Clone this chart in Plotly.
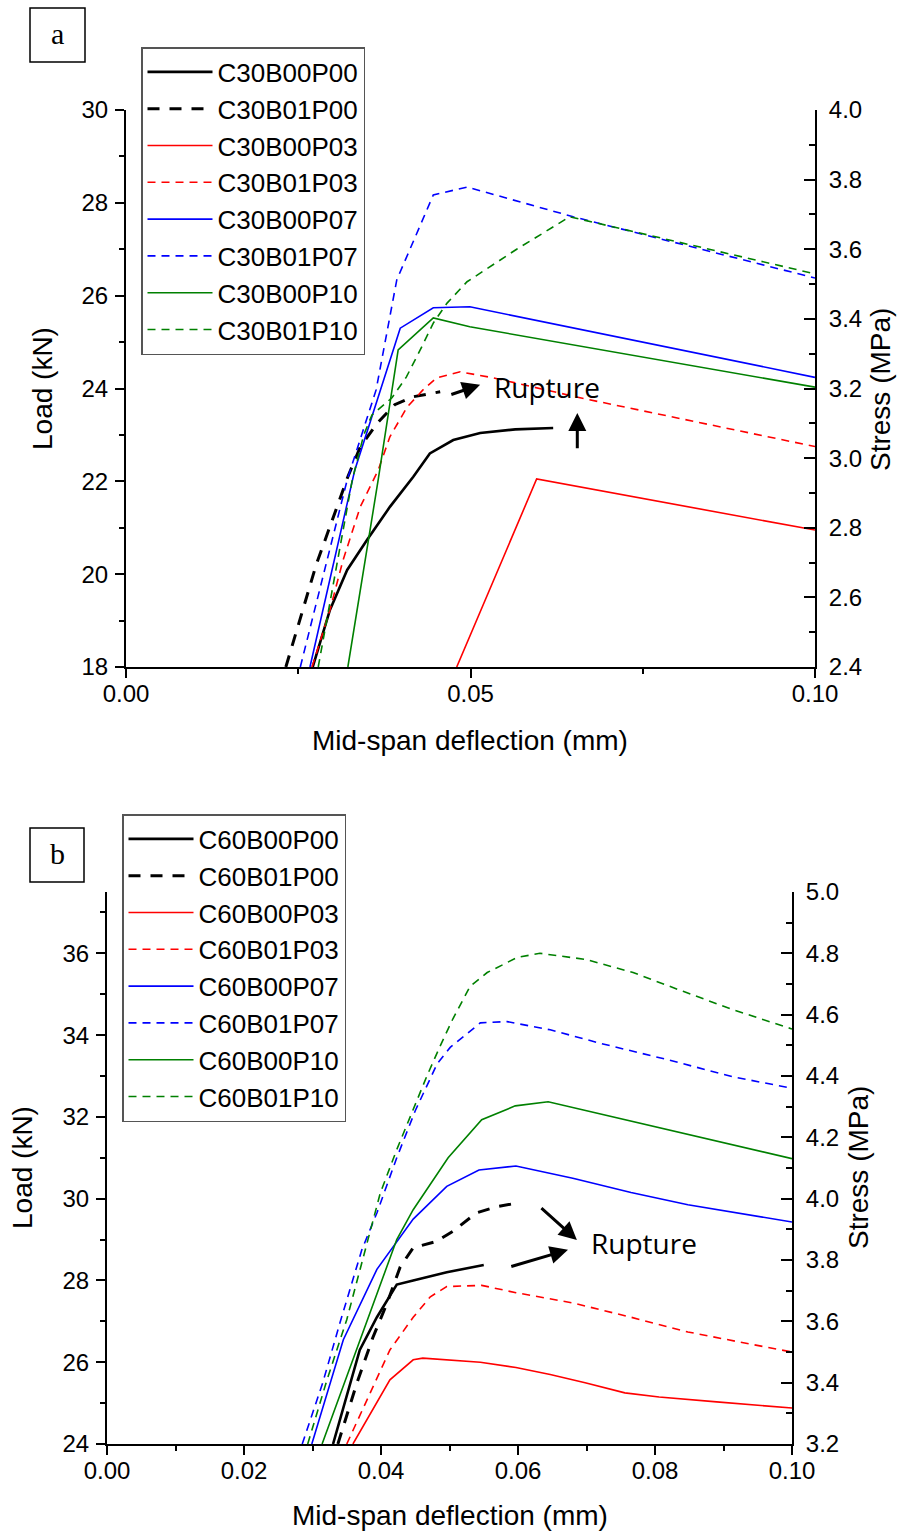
import plotly.graph_objects as go

# ---------------- Panel (a) data : C30 series ----------------
a_names = ["C30B00P00", "C30B01P00", "C30B00P03", "C30B01P03",
           "C30B00P07", "C30B01P07", "C30B00P10", "C30B01P10"]

a_B00P00_x = [0.0271, 0.0296, 0.0321, 0.0350, 0.0383, 0.0417, 0.0441, 0.0475, 0.0514, 0.0565, 0.0620]
a_B00P00_y = [18.0, 19.23, 20.09, 20.74, 21.45, 22.10, 22.60, 22.89, 23.04, 23.12, 23.15]

a_B01P00_x = [0.0232, 0.0276, 0.0322, 0.0340, 0.0365, 0.0390, 0.0416, 0.0451, 0.0456]
a_B01P00_y = [18.0, 20.20, 22.10, 22.74, 23.26, 23.65, 23.82, 23.93, 23.93]

a_B00P03_x = [0.0480, 0.0596, 0.1000]
a_B00P03_y = [18.0, 22.05, 20.95]

a_B01P03_x = [0.0270, 0.0296, 0.0315, 0.0340, 0.0366, 0.0383, 0.0408, 0.0431, 0.0451, 0.0485, 0.0533, 0.0659, 0.1000]
a_B01P03_y = [18.0, 19.23, 20.30, 21.45, 22.24, 22.96, 23.60, 23.97, 24.23, 24.36, 24.23, 23.80, 22.75]

a_B00P07_x = [0.0267, 0.0332, 0.0398, 0.0446, 0.0499, 0.1000]
a_B00P07_y = [18.0, 22.24, 25.30, 25.74, 25.76, 24.24]

a_B01P07_x = [0.0253, 0.0321, 0.0363, 0.0393, 0.0446, 0.0495, 0.0649, 0.1000]
a_B01P07_y = [18.0, 22.03, 23.97, 26.34, 28.17, 28.34, 27.70, 26.38]

a_B00P10_x = [0.0322, 0.0366, 0.0395, 0.0446, 0.0499, 0.1000]
a_B00P10_y = [18.0, 22.03, 24.83, 25.52, 25.33, 24.03]

a_B01P10_x = [0.0279, 0.0328, 0.0345, 0.0357, 0.0386, 0.0407, 0.0427, 0.0446, 0.0466, 0.0495, 0.0567, 0.0644, 0.1000]
a_B01P10_y = [18.0, 22.00, 23.00, 23.43, 23.80, 24.25, 24.83, 25.41, 25.84, 26.30, 27.00, 27.70, 26.47]

# ---------------- Panel (b) data : C60 series ----------------
b_names = ["C60B00P00", "C60B01P00", "C60B00P03", "C60B01P03",
           "C60B00P07", "C60B01P07", "C60B00P10", "C60B01P10"]

b_B00P00_x = [0.0330, 0.0369, 0.0394, 0.0423, 0.0447, 0.0496, 0.0550]
b_B00P00_y = [24.0, 26.30, 27.10, 27.90, 28.00, 28.20, 28.38]

b_B01P00_x = [0.0337, 0.0365, 0.0388, 0.0409, 0.0428, 0.0447, 0.0480, 0.0505, 0.0539, 0.0568, 0.0601]
b_B01P00_y = [24.0, 25.50, 26.60, 27.45, 28.33, 28.80, 28.95, 29.20, 29.65, 29.80, 29.90]

b_B00P03_x = [0.0359, 0.0413, 0.0447, 0.0461, 0.0545, 0.0597, 0.0647, 0.0698, 0.0756, 0.0806, 0.0890, 0.1000]
b_B00P03_y = [24.0, 25.57, 26.06, 26.10, 26.00, 25.87, 25.70, 25.50, 25.25, 25.15, 25.03, 24.88]

b_B01P03_x = [0.0350, 0.0384, 0.0413, 0.0447, 0.0472, 0.0496, 0.0547, 0.0597, 0.0680, 0.0765, 0.0848, 0.0931, 0.1000]
b_B01P03_y = [24.0, 25.25, 26.30, 27.10, 27.60, 27.85, 27.88, 27.70, 27.45, 27.10, 26.74, 26.47, 26.25]

b_B00P07_x = [0.0299, 0.0345, 0.0394, 0.0447, 0.0496, 0.0543, 0.0597, 0.0680, 0.0765, 0.0848, 0.1000]
b_B00P07_y = [24.0, 26.55, 28.27, 29.50, 30.30, 30.70, 30.80, 30.50, 30.15, 29.85, 29.43]

b_B01P07_x = [0.0285, 0.0315, 0.0340, 0.0372, 0.0394, 0.0423, 0.0450, 0.0482, 0.0501, 0.0526,
              0.0545, 0.0584, 0.0647, 0.0720, 0.0818, 0.0914, 0.1000]
b_B01P07_y = [24.0, 25.50, 26.96, 28.75, 29.65, 31.00, 32.15, 33.30, 33.70, 34.05,
              34.30, 34.33, 34.13, 33.80, 33.40, 32.98, 32.70]

b_B00P10_x = [0.0314, 0.0423, 0.0447, 0.0498, 0.0547, 0.0596, 0.0644, 0.1000]
b_B00P10_y = [24.0, 29.00, 29.73, 31.00, 31.93, 32.27, 32.37, 30.98]

b_B01P10_x = [0.0293, 0.0321, 0.0350, 0.0377, 0.0399, 0.0423, 0.0447, 0.0467, 0.0486, 0.0505,
              0.0530, 0.0555, 0.0599, 0.0632, 0.0699, 0.0768, 0.0841, 0.0914, 0.1000]
b_B01P10_y = [24.0, 25.56, 27.04, 28.75, 30.14, 31.20, 32.18, 33.00, 33.72, 34.40,
              35.19, 35.53, 35.90, 36.00, 35.85, 35.53, 35.07, 34.62, 34.15]

# axis ranges
a_xrange = [0, 0.1]
a_yrange = [18, 30]
a_y2range = [2.4, 4.0]
b_xrange = [0, 0.1]
b_yrange = [24, 37.5]
b_y2range = [3.2, 5.0]

# ---------------- styling ----------------
W, H = 900, 1533
BLACK = "#000000"
RED = "#FF0000"
BLUE = "#0000FF"
GREEN = "#008000"
FONT = "Liberation Sans, Arial, sans-serif"

styles = [
    dict(color=BLACK, width=2.6, dash="solid"),
    dict(color=BLACK, width=3.0, dash="12px,10px"),
    dict(color=RED, width=1.6, dash="solid"),
    dict(color=RED, width=1.6, dash="8px,6px"),
    dict(color=BLUE, width=1.6, dash="solid"),
    dict(color=BLUE, width=1.6, dash="8px,6px"),
    dict(color=GREEN, width=1.6, dash="solid"),
    dict(color=GREEN, width=1.6, dash="8px,6px"),
]

a_series = [(a_B00P00_x, a_B00P00_y), (a_B01P00_x, a_B01P00_y), (a_B00P03_x, a_B00P03_y),
            (a_B01P03_x, a_B01P03_y), (a_B00P07_x, a_B00P07_y), (a_B01P07_x, a_B01P07_y),
            (a_B00P10_x, a_B00P10_y), (a_B01P10_x, a_B01P10_y)]
b_series = [(b_B00P00_x, b_B00P00_y), (b_B01P00_x, b_B01P00_y), (b_B00P03_x, b_B00P03_y),
            (b_B01P03_x, b_B01P03_y), (b_B00P07_x, b_B00P07_y), (b_B01P07_x, b_B01P07_y),
            (b_B00P10_x, b_B00P10_y), (b_B01P10_x, b_B01P10_y)]

fig = go.Figure()
for name, (xs, ys), st in zip(a_names, a_series, styles):
    fig.add_trace(go.Scatter(x=xs, y=ys, name=name, mode="lines", line=st,
                             xaxis="x", yaxis="y", legend="legend"))
for name, (xs, ys), st in zip(b_names, b_series, styles):
    fig.add_trace(go.Scatter(x=xs, y=ys, name=name, mode="lines", line=st,
                             xaxis="x2", yaxis="y3", legend="legend2"))

# invisible helper traces so the stress axes are drawn
fig.add_trace(go.Scatter(x=[None], y=[None], xaxis="x", yaxis="y2", showlegend=False, hoverinfo="skip"))
fig.add_trace(go.Scatter(x=[None], y=[None], xaxis="x2", yaxis="y4", showlegend=False, hoverinfo="skip"))


def px_x(p):
    return p / W


def px_y(p):
    return 1 - p / H


tickfont = dict(family=FONT, size=24, color=BLACK)
common = dict(showline=True, linecolor=BLACK, linewidth=2, showgrid=False, zeroline=False,
              tickfont=tickfont, tickcolor=BLACK, tickwidth=2, mirror=False, automargin=False)

layout = dict(
    template="none",
    width=W, height=H, margin=dict(l=0, r=0, t=0, b=0, autoexpand=False),
    paper_bgcolor="white", plot_bgcolor="white",
    showlegend=True,
    xaxis=dict(domain=[px_x(126), px_x(815)], anchor="y", range=a_xrange,
               tickmode="linear", tick0=0, dtick=0.05, tickformat=".2f",
               ticks="outside", ticklen=9, ticklabelstandoff=-5,
               minor=dict(ticks="outside", ticklen=5, dtick=0.025, tickcolor=BLACK, tickwidth=2),
               **common),
    yaxis=dict(domain=[px_y(667), px_y(110)], anchor="x", range=a_yrange,
               tickmode="linear", tick0=18, dtick=2,
               ticks="outside", ticklen=9, ticklabelstandoff=2,
               minor=dict(ticks="outside", ticklen=5, dtick=1, tickcolor=BLACK, tickwidth=2),
               **common),
    yaxis2=dict(overlaying="y", side="right", anchor="x", range=a_y2range,
                tickmode="linear", tick0=2.4, dtick=0.2, tickformat=".1f",
                ticks="inside", ticklen=11, ticklabelstandoff=7,
                minor=dict(ticks="inside", ticklen=6, dtick=0.1, tickcolor=BLACK, tickwidth=2),
                **common),
    xaxis2=dict(domain=[px_x(107), px_x(792)], anchor="y3", range=b_xrange,
                tickmode="linear", tick0=0, dtick=0.02, tickformat=".2f",
                ticks="outside", ticklen=9, ticklabelstandoff=-5,
                minor=dict(ticks="outside", ticklen=5, dtick=0.01, tickcolor=BLACK, tickwidth=2),
                **common),
    yaxis3=dict(domain=[px_y(1444), px_y(892)], anchor="x2", range=b_yrange,
                tickmode="linear", tick0=24, dtick=2,
                ticks="outside", ticklen=9, ticklabelstandoff=2,
                minor=dict(ticks="outside", ticklen=5, dtick=1, tickcolor=BLACK, tickwidth=2),
                **common),
    yaxis4=dict(overlaying="y3", side="right", anchor="x2", range=b_y2range,
                tickmode="linear", tick0=3.2, dtick=0.2, tickformat=".1f",
                ticks="inside", ticklen=11, ticklabelstandoff=7,
                minor=dict(ticks="inside", ticklen=6, dtick=0.1, tickcolor=BLACK, tickwidth=2),
                **common),
    legend=dict(x=px_x(141), y=px_y(47), xanchor="left", yanchor="top",
                bgcolor="white", bordercolor="#555555", borderwidth=1.5,
                font=dict(family=FONT, size=26, color=BLACK),
                itemwidth=65, tracegroupgap=0, itemclick=False),
    legend2=dict(x=px_x(122), y=px_y(814), xanchor="left", yanchor="top",
                 bgcolor="white", bordercolor="#555555", borderwidth=1.5,
                 font=dict(family=FONT, size=26, color=BLACK),
                 itemwidth=65, tracegroupgap=0, itemclick=False),
)
fig.update_layout(**layout)

titlefont = dict(family=FONT, size=28, color=BLACK)
C = dict(xref="paper", yref="paper", xanchor="center", yanchor="middle", showarrow=False)
ann = []
# axis titles panel a
ann.append(dict(text="Load (kN)", x=px_x(42), y=px_y(389), textangle=-90, font=titlefont, **C))
ann.append(dict(text="Stress (MPa)", x=px_x(880), y=px_y(390), textangle=-90, font=titlefont, **C))
ann.append(dict(text="Mid-span deflection (mm)", x=px_x(470), y=px_y(740), font=titlefont, **C))
# axis titles panel b
ann.append(dict(text="Load (kN)", x=px_x(22), y=px_y(1168), textangle=-90, font=titlefont, **C))
ann.append(dict(text="Stress (MPa)", x=px_x(858), y=px_y(1168), textangle=-90, font=titlefont, **C))
ann.append(dict(text="Mid-span deflection (mm)", x=px_x(450), y=px_y(1515), font=titlefont, **C))

# panel labels
labfont = dict(family="Liberation Serif, Times New Roman, serif", size=30, color=BLACK)
ann.append(dict(text="a", x=px_x(57.5), y=px_y(33), font=labfont, **C))
ann.append(dict(text="b", x=px_x(57), y=px_y(853), font=labfont, **C))

# Rupture annotations
rfont = dict(family="Open Sans, sans-serif", size=28, color=BLACK)
arrow = dict(showarrow=True, arrowhead=2, arrowsize=1.2, arrowwidth=3, arrowcolor=BLACK)
# panel a
ann.append(dict(text="Rupture", x=0.0531, y=24.03, xref="x", yref="y", xanchor="left",
                yanchor="middle", showarrow=False, font=rfont))
ann.append(dict(text="", x=0.0514, y=24.08, ax=0.0470, ay=23.86, xref="x", yref="y",
                axref="x", ayref="y", **arrow))
ann.append(dict(text="", x=0.0655, y=23.47, ax=0.0655, ay=22.68, xref="x", yref="y",
                axref="x", ayref="y", **arrow))
# panel b
ann.append(dict(text="Rupture", x=0.0704, y=28.92, xref="x2", yref="y3", xanchor="left",
                yanchor="middle", showarrow=False, font=rfont))
ann.append(dict(text="", x=0.0686, y=28.99, ax=0.0632, ay=29.80, xref="x2", yref="y3",
                axref="x2", ayref="y3", **arrow))
ann.append(dict(text="", x=0.0673, y=28.75, ax=0.0588, ay=28.33, xref="x2", yref="y3",
                axref="x2", ayref="y3", **arrow))

shapes = [
    dict(type="rect", xref="paper", yref="paper", x0=px_x(30), x1=px_x(85), y0=px_y(62), y1=px_y(8),
         line=dict(color=BLACK, width=1.5), fillcolor="rgba(0,0,0,0)"),
    dict(type="rect", xref="paper", yref="paper", x0=px_x(30), x1=px_x(84), y0=px_y(882), y1=px_y(828),
         line=dict(color=BLACK, width=1.5), fillcolor="rgba(0,0,0,0)"),
]

fig.update_layout(annotations=ann, shapes=shapes)
fig.write_html("out.html")
